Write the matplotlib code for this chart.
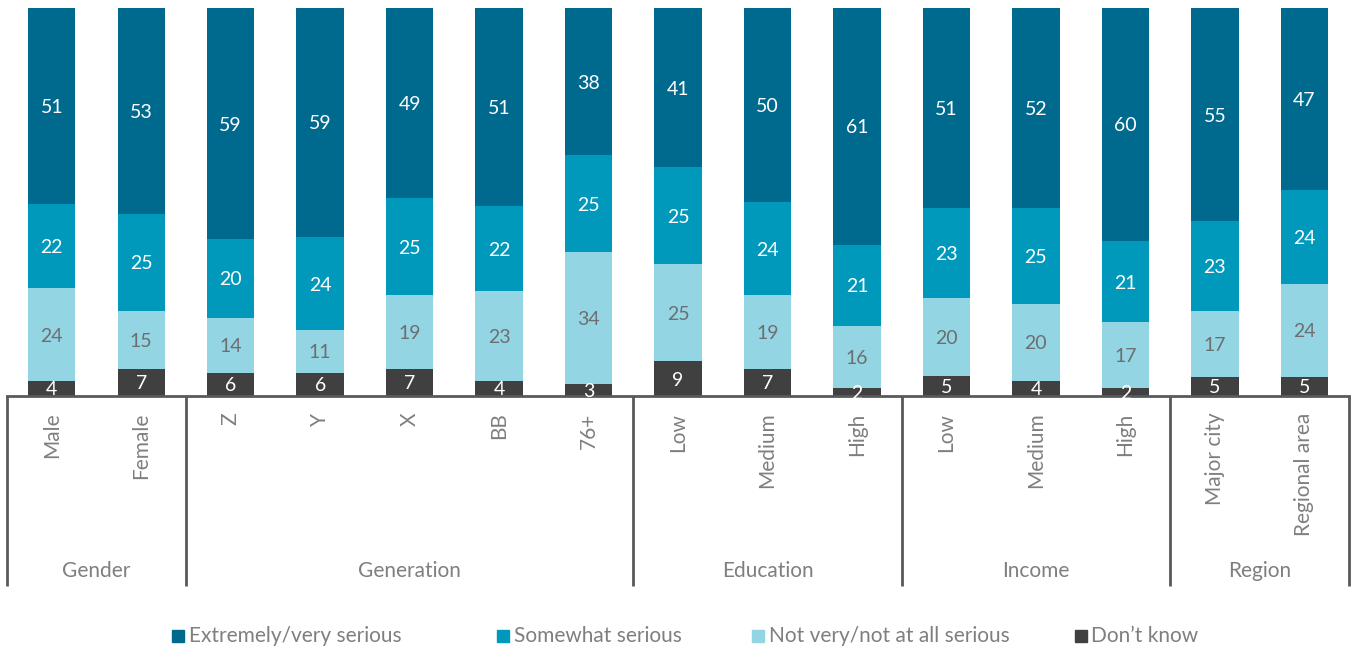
import numpy as np
import matplotlib
matplotlib.use("Agg")
import matplotlib.pyplot as plt
from matplotlib.patches import Rectangle

plt.rcParams['font.family'] = ['Lato', 'DejaVu Sans']

categories = ["Male", "Female", "Z", "Y", "X", "BB", "76+", "Low", "Medium", "High",
              "Low", "Medium", "High", "Major city", "Regional area"]
groups = ["Gender", "Generation", "Education", "Income", "Region"]
group_sizes = [2, 5, 3, 3, 2]

extremely = [51, 53, 59, 59, 49, 51, 38, 41, 50, 61, 51, 52, 60, 55, 47]
somewhat = [22, 25, 20, 24, 25, 22, 25, 25, 24, 21, 23, 25, 21, 23, 24]
not_very = [24, 15, 14, 11, 19, 23, 34, 25, 19, 16, 20, 20, 17, 17, 24]
dont_know = [4, 7, 6, 6, 7, 4, 3, 9, 7, 2, 5, 4, 2, 5, 5]

series = [
    ("Don\u2019t know", dont_know, "#404041", "white"),
    ("Not very/not at all serious", not_very, "#93d5e3", "#6d6e71"),
    ("Somewhat serious", somewhat, "#0099bb", "white"),
    ("Extremely/very serious", extremely, "#006a8e", "white"),
]
GREY = "#7f7f7f"

totals = np.sum([s[1] for s in series], axis=0)
x = np.arange(len(categories))

fig = plt.figure(figsize=(13.55, 6.52), dpi=100)
ax = fig.add_axes([0.0052, 0.3926, 0.9904, 0.5951])

bottom = np.zeros(len(categories))
for name, vals, color, tcolor in series:
    vals = np.array(vals, dtype=float)
    h = vals / totals * 100
    ax.bar(x, h, 0.53, bottom=bottom, color=color, edgecolor="none")
    for xi, b, hi, v in zip(x, bottom, h, vals):
        ax.text(xi, b + hi / 2, f"{int(v)}", ha="center", va="center_baseline",
                color=tcolor, fontsize=14)
    bottom += h

ax.set_xlim(-0.5, len(categories) - 0.5)
ax.set_ylim(0, 100)
ax.set_yticks([])
ax.set_xticks(x)
ax.set_xticklabels(categories, rotation=90, fontsize=15, color=GREY, va="top")
ax.tick_params(axis="x", length=0, pad=12)
for side in ["top", "left", "right"]:
    ax.spines[side].set_visible(False)
ax.spines["bottom"].set_color("#595959")
ax.spines["bottom"].set_linewidth(2)

# group separators and group names below the axis
trans = ax.get_xaxis_transform()
edges = np.concatenate([[0], np.cumsum(group_sizes)]) - 0.5
for e in edges:
    ax.plot([e, e], [0, -0.49], transform=trans, color="#595959", lw=2,
            clip_on=False, solid_capstyle="butt")
for g, a, b in zip(groups, edges[:-1], edges[1:]):
    ax.text((a + b) / 2, -0.451, g, transform=trans, ha="center", va="center",
            fontsize=15, color=GREY)

# legend row along the bottom
leg_x = [0.127, 0.367, 0.555, 0.793]
for (name, _, color, _), lx in zip(series[::-1], leg_x):
    fig.patches.append(Rectangle((lx, 0.0155), 0.0089, 0.0185, color=color,
                                 transform=fig.transFigure))
    fig.text(lx + 0.0125, 0.0245, name, ha="left", va="center", fontsize=15,
             color=GREY)

fig.savefig("out.png", dpi=100)
